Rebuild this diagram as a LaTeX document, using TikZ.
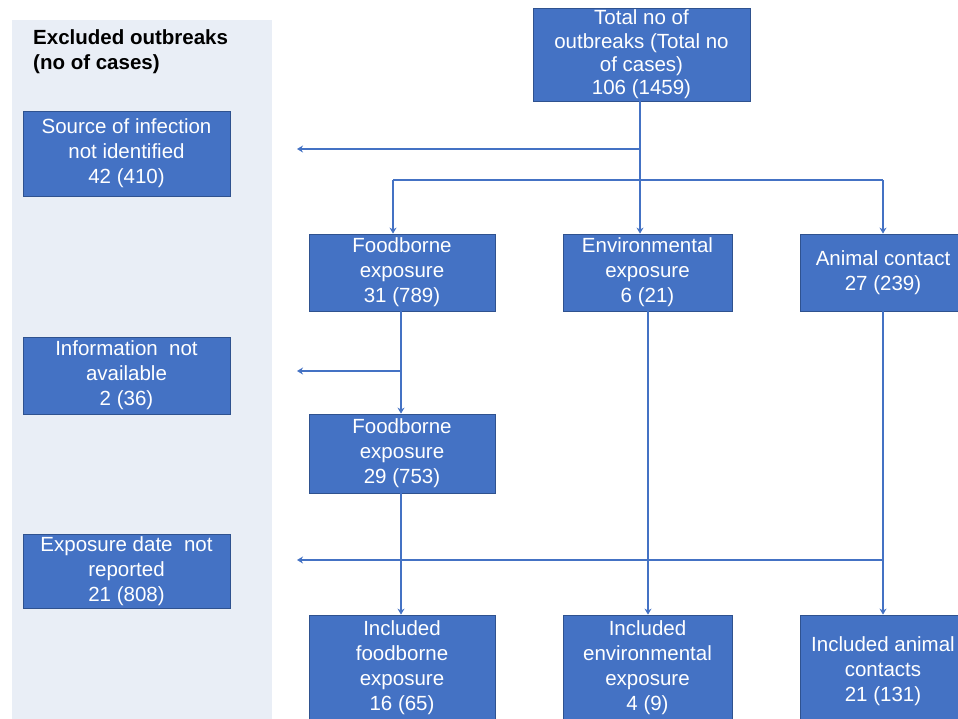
\documentclass[tikz,border=0pt]{standalone}
\usepackage{fontspec}
\setmainfont{Liberation Sans}
\usetikzlibrary{arrows.meta}
\definecolor{boxblue}{HTML}{4472C4}
\definecolor{boxedge}{HTML}{2F528F}
\definecolor{panelbg}{HTML}{E9EEF6}
\begin{document}
\begin{tikzpicture}[x=1pt,y=-1pt,
  box/.style={draw=boxedge, fill=boxblue, text=white, align=center, inner sep=0pt,
    line width=0.8pt, font=\fontsize{20.5}{25}\selectfont},
  line/.style={draw=boxblue, line width=1.6pt},
  conn/.style={line, -{Stealth[length=6pt,width=7pt]}},
  title/.style={anchor=north west, align=left, inner sep=0pt, font=\bfseries\fontsize{20.5}{25}\selectfont}]
\useasboundingbox (0,0) rectangle (958,718);
\clip (0,0) rectangle (958,718);
\fill[panelbg] (12,20) rectangle (272,730);
\node[title] (ttl) at (33,29) {Excluded outbreaks\\(no of cases)};
% boxes
\node[box, minimum width=217pt, minimum height=93pt, font=\fontsize{20.5}{23.4}\selectfont] (total) at (641.5,54.5) {Total no of\\outbreaks (Total no\\of cases)\\106 (1459)};
\node[box, minimum width=207pt, minimum height=85pt] (src) at (126.5,153.5) {Source of infection\\not identified\\42 (410)};
\node[box, minimum width=207pt, minimum height=77pt] (info) at (126.5,375.5) {Information\ \ not\\available\\2 (36)};
\node[box, minimum width=207pt, minimum height=74pt] (date) at (126.5,571) {Exposure date\ \ not\\reported\\21 (808)};
\node[box, minimum width=186pt, minimum height=77pt] (food1) at (402,272.5) {Foodborne\\exposure\\31 (789)};
\node[box, minimum width=169pt, minimum height=77pt] (env) at (647.5,272.5) {Environmental\\exposure\\6 (21)};
\node[box, minimum width=166pt, minimum height=77pt] (anim) at (883,272.5) {Animal contact\\27 (239)};
\node[box, minimum width=186pt, minimum height=79pt] (food2) at (402,453.5) {Foodborne\\exposure\\29 (753)};
\node[box, minimum width=186pt, minimum height=106pt] (incfood) at (402,668) {Included\\foodborne\\exposure\\16 (65)};
\node[box, minimum width=169pt, minimum height=106pt] (incenv) at (647.5,668) {Included\\environmental\\exposure\\4 (9)};
\node[box, minimum width=166pt, minimum height=112pt] (incanim) at (883,671) {Included animal\\contacts\\21 (131)};
% junction coordinates
\coordinate (j1) at (640,149);
\coordinate (j2) at (640,180);
\coordinate (hL) at (393,180);
\coordinate (hR) at (883,180);
\coordinate (e1) at (297,149);
\coordinate (b2) at (401,371);
\coordinate (e2) at (297,371);
\coordinate (b3) at (883,560);
\coordinate (e3) at (297,560);
% connectors
\draw[line] (total.south -| j1) -- (j2);
\draw[conn] (j1) -- (e1);
\draw[line] (hL) -- (hR);
\draw[conn] (hL) -- (hL |- food1.north);
\draw[conn] (j2) -- (j2 |- env.north);
\draw[conn] (hR) -- (hR |- anim.north);
\draw[conn] (food1.south -| b2) -- (food2.north -| b2);
\draw[conn] (b2) -- (e2);
\draw[conn] (food2.south -| b2) -- (incfood.north -| b2);
\draw[conn] ([xshift=0.5pt]env.south) -- ([xshift=0.5pt]incenv.north);
\draw[conn] (anim.south) -- (incanim.north);
\draw[conn] (b3) -- (e3);
\end{tikzpicture}
\end{document}
